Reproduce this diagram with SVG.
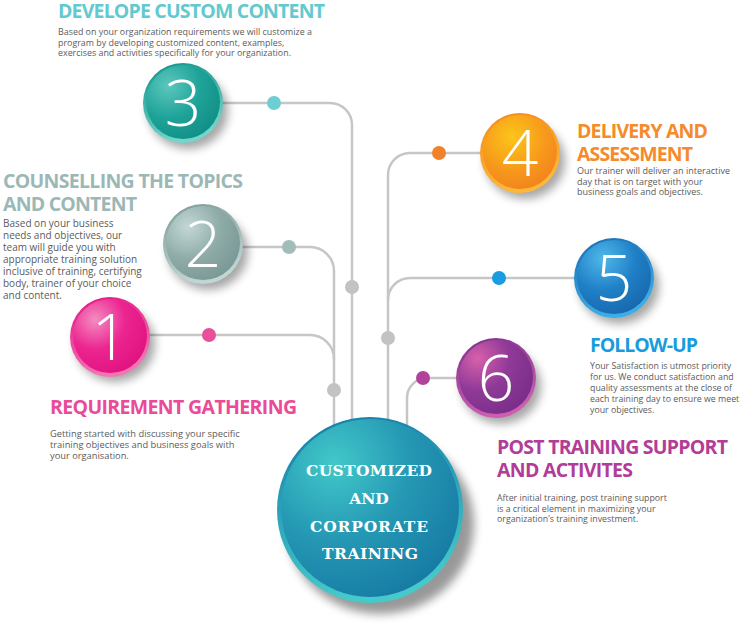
<svg xmlns="http://www.w3.org/2000/svg" width="744" height="640" viewBox="0 0 744 640">
  <defs>
    <style>
      .head { font-family: "Open Sans", "Liberation Sans", sans-serif; font-weight: 700; font-size: 19.5px; }
      .body { font-family: "Open Sans", "Liberation Sans", sans-serif; fill: #5b5b5b; }
      .num { font-family: "Open Sans", "Liberation Sans", sans-serif; font-weight: 300; font-size: 64px; fill: #ffffff; text-anchor: middle; }
      .hub { font-family: "DejaVu Serif", "Liberation Serif", serif; font-weight: 700; font-size: 15.5px; fill: #ffffff; text-anchor: middle; }
      .wire { fill: none; stroke: #c6c6c6; stroke-width: 2.5; }
      .joint { fill: #c3c3c3; }
    </style>
    <filter id="shadow" x="-50%" y="-50%" width="200%" height="200%">
      <feGaussianBlur stdDeviation="5"/>
    </filter>
    <!-- ball fills: soft highlight in the upper left -->
    <radialGradient id="g3" cx="0.3" cy="0.28" r="0.8">
      <stop offset="0" stop-color="#5cc7bd"/><stop offset="0.55" stop-color="#1ea399"/><stop offset="1" stop-color="#118f86"/>
    </radialGradient>
    <linearGradient id="r3" x1="0" y1="0" x2="0.3" y2="1">
      <stop offset="0" stop-color="#119086"/><stop offset="1" stop-color="#72d6cb"/>
    </linearGradient>
    <radialGradient id="g2" cx="0.3" cy="0.28" r="0.8">
      <stop offset="0" stop-color="#c3d8d6"/><stop offset="0.55" stop-color="#8eaba8"/><stop offset="1" stop-color="#7a9895"/>
    </radialGradient>
    <linearGradient id="r2" x1="0" y1="0" x2="0.3" y2="1">
      <stop offset="0" stop-color="#7d9a97"/><stop offset="1" stop-color="#bfd6d4"/>
    </linearGradient>
    <radialGradient id="g1" cx="0.3" cy="0.28" r="0.8">
      <stop offset="0" stop-color="#f48cc0"/><stop offset="0.5" stop-color="#ec2591"/><stop offset="1" stop-color="#e0137f"/>
    </radialGradient>
    <linearGradient id="r1" x1="0" y1="0" x2="0.3" y2="1">
      <stop offset="0" stop-color="#e01682"/><stop offset="1" stop-color="#f574b4"/>
    </linearGradient>
    <radialGradient id="g4" cx="0.4" cy="0.3" r="0.8">
      <stop offset="0" stop-color="#fcc51a"/><stop offset="0.55" stop-color="#f79a1b"/><stop offset="1" stop-color="#f27d1e"/>
    </radialGradient>
    <linearGradient id="r4" x1="0" y1="0" x2="0.3" y2="1">
      <stop offset="0" stop-color="#f38a1c"/><stop offset="1" stop-color="#fcb83a"/>
    </linearGradient>
    <radialGradient id="g5" cx="0.35" cy="0.25" r="0.8">
      <stop offset="0" stop-color="#4fb7ea"/><stop offset="0.55" stop-color="#1f80c6"/><stop offset="1" stop-color="#1868ae"/>
    </radialGradient>
    <linearGradient id="r5" x1="0" y1="0" x2="0.3" y2="1">
      <stop offset="0" stop-color="#1a6db2"/><stop offset="1" stop-color="#3caee6"/>
    </linearGradient>
    <radialGradient id="g6" cx="0.25" cy="0.25" r="0.85">
      <stop offset="0" stop-color="#d760ab"/><stop offset="0.5" stop-color="#903a98"/><stop offset="1" stop-color="#7a2d8a"/>
    </radialGradient>
    <linearGradient id="r6" x1="0" y1="0" x2="0.3" y2="1">
      <stop offset="0" stop-color="#7f2f8e"/><stop offset="1" stop-color="#cc5fae"/>
    </linearGradient>
    <radialGradient id="gHub" cx="0.3" cy="0.25" r="0.85">
      <stop offset="0" stop-color="#42c8c9"/><stop offset="0.5" stop-color="#2598b4"/><stop offset="1" stop-color="#1679a3"/>
    </radialGradient>
    <linearGradient id="rHub" x1="0" y1="0" x2="0.2" y2="1">
      <stop offset="0" stop-color="#147ca6"/><stop offset="1" stop-color="#45c9ca"/>
    </linearGradient>
  </defs>

  <rect width="744" height="640" fill="#ffffff"/>

  <!-- connectors -->
  <g id="connectors">
    <path class="wire" d="M222,103 H330 A22,22 0 0 1 352,125 V470"/>
    <path class="wire" d="M242,247 H310 A24,24 0 0 1 334,271 V470"/>
    <path class="wire" d="M149,335 H310 A24,24 0 0 1 334,359"/>
    <path class="wire" d="M481,153 H410 A22,22 0 0 0 388,175 V470"/>
    <path class="wire" d="M575,278 H410 A22,22 0 0 0 388,300"/>
    <path class="wire" d="M457,378 H427 A20,20 0 0 0 407,398 V470"/>
    <circle cx="274" cy="103" r="7" fill="#6fcdd4"/>
    <circle cx="289" cy="247" r="7" fill="#a2bcba"/>
    <circle cx="209" cy="335" r="7" fill="#e9509b"/>
    <circle cx="439" cy="153" r="7" fill="#f2812c"/>
    <circle cx="499" cy="278" r="7" fill="#199ce0"/>
    <circle cx="423" cy="378" r="7" fill="#b1419b"/>
    <circle class="joint" cx="352" cy="287" r="7"/>
    <circle class="joint" cx="334" cy="390" r="7"/>
    <circle class="joint" cx="388" cy="338" r="7"/>
  </g>

  <!-- step 3 -->
  <g id="step3">
    <text class="head" x="58" y="18" fill="#62c9cf" textLength="267">DEVELOPE CUSTOM CONTENT</text>
    <text class="body" font-size="8.9">
      <tspan x="58" y="35">Based on your organization requirements we will customize a</tspan>
      <tspan x="58" y="45.5">program by developing customized content, examples,</tspan>
      <tspan x="58" y="56">exercises and activities specifically for your organization.</tspan>
    </text>
    <ellipse cx="188" cy="111" rx="40" ry="38" fill="#000" opacity="0.35" filter="url(#shadow)"/>
    <circle cx="183" cy="103" r="40" fill="url(#r3)"/>
    <circle cx="183" cy="102" r="37" fill="url(#g3)"/>
    <text class="num" x="183" y="126">3</text>
  </g>

  <!-- step 2 -->
  <g id="step2">
    <text class="head" x="3" y="188" fill="#9cb8b6" textLength="240">COUNSELLING THE TOPICS</text>
    <text class="head" x="3" y="211" fill="#9cb8b6" textLength="134">AND CONTENT</text>
    <text class="body" font-size="10">
      <tspan x="3" y="227">Based on your business</tspan>
      <tspan x="3" y="239">needs and objectives, our</tspan>
      <tspan x="3" y="251">team will guide you with</tspan>
      <tspan x="3" y="263">appropriate training solution</tspan>
      <tspan x="3" y="275">inclusive of training, certifying</tspan>
      <tspan x="3" y="287">body, trainer of your choice</tspan>
      <tspan x="3" y="299">and content.</tspan>
    </text>
    <ellipse cx="208" cy="252" rx="40" ry="38" fill="#000" opacity="0.35" filter="url(#shadow)"/>
    <circle cx="203" cy="244" r="40" fill="url(#r2)"/>
    <circle cx="203" cy="243" r="37" fill="url(#g2)"/>
    <text class="num" x="203" y="267">2</text>
  </g>

  <!-- step 1 -->
  <g id="step1">
    <ellipse cx="115" cy="344" rx="40" ry="38" fill="#000" opacity="0.35" filter="url(#shadow)"/>
    <circle cx="110" cy="337" r="40" fill="url(#r1)"/>
    <circle cx="110" cy="336" r="37" fill="url(#g1)"/>
    <text class="num" x="110" y="360">1</text>
    <text class="head" x="50" y="414" fill="#ea4b98" textLength="247">REQUIREMENT GATHERING</text>
    <text class="body" font-size="9.3">
      <tspan x="50" y="437">Getting started with discussing your specific</tspan>
      <tspan x="50" y="448">training objectives and business goals with</tspan>
      <tspan x="50" y="459">your organisation.</tspan>
    </text>
  </g>

  <!-- step 4 -->
  <g id="step4">
    <ellipse cx="525" cy="161" rx="40" ry="38" fill="#000" opacity="0.35" filter="url(#shadow)"/>
    <circle cx="520" cy="153" r="40" fill="url(#r4)"/>
    <circle cx="520" cy="152" r="37" fill="url(#g4)"/>
    <text class="num" x="520" y="176">4</text>
    <text class="head" x="577" y="138" fill="#f58b2b" textLength="131">DELIVERY AND</text>
    <text class="head" x="577" y="161" fill="#f58b2b" textLength="116">ASSESSMENT</text>
    <text class="body" font-size="9">
      <tspan x="577" y="174">Our trainer will deliver an interactive</tspan>
      <tspan x="577" y="184.5">day that is on target with your</tspan>
      <tspan x="577" y="195">business goals and objectives.</tspan>
    </text>
  </g>

  <!-- step 5 -->
  <g id="step5">
    <ellipse cx="619" cy="286" rx="40" ry="38" fill="#000" opacity="0.35" filter="url(#shadow)"/>
    <circle cx="614" cy="278" r="40" fill="url(#r5)"/>
    <circle cx="614" cy="277" r="37" fill="url(#g5)"/>
    <text class="num" x="614" y="301">5</text>
    <text class="head" x="590" y="352" fill="#199cdc" textLength="108">FOLLOW-UP</text>
    <text class="body" font-size="8.8">
      <tspan x="590" y="369">Your Satisfaction is utmost priority</tspan>
      <tspan x="590" y="380">for us. We conduct satisfaction and</tspan>
      <tspan x="590" y="391">quality assessments at the close of</tspan>
      <tspan x="590" y="402">each training day to ensure we meet</tspan>
      <tspan x="590" y="413">your objectives.</tspan>
    </text>
  </g>

  <!-- step 6 -->
  <g id="step6">
    <ellipse cx="501" cy="386" rx="40" ry="38" fill="#000" opacity="0.35" filter="url(#shadow)"/>
    <circle cx="496" cy="378" r="40" fill="url(#r6)"/>
    <circle cx="496" cy="377" r="37" fill="url(#g6)"/>
    <text class="num" x="496" y="401">6</text>
    <text class="head" x="497" y="454" fill="#b23c97" textLength="231">POST TRAINING SUPPORT</text>
    <text class="head" x="497" y="477" fill="#b23c97" textLength="136">AND ACTIVITES</text>
    <text class="body" font-size="8.8">
      <tspan x="497" y="501">After initial training, post training support</tspan>
      <tspan x="497" y="511.5">is a critical element in maximizing your</tspan>
      <tspan x="497" y="522">organization’s training investment.</tspan>
    </text>
  </g>

  <!-- central hub -->
  <g id="hub">
    <ellipse cx="380" cy="524" rx="94" ry="90" fill="#000" opacity="0.4" filter="url(#shadow)"/>
    <circle cx="370" cy="510" r="93" fill="url(#rHub)"/>
    <circle cx="370" cy="508" r="89" fill="url(#gHub)"/>
    <text class="hub" x="369" y="476" textLength="126">CUSTOMIZED</text>
    <text class="hub" x="369" y="504">AND</text>
    <text class="hub" x="369" y="532" textLength="118">CORPORATE</text>
    <text class="hub" x="370" y="559" textLength="96">TRAINING</text>
  </g>
</svg>
